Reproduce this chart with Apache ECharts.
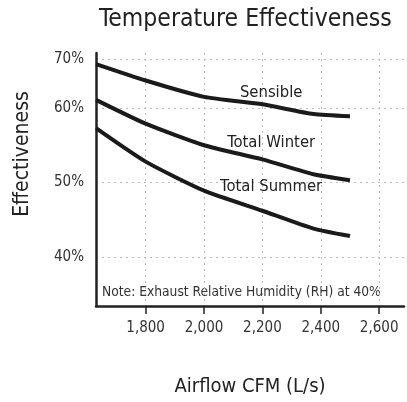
<!DOCTYPE html>
<html>
<head>
<meta charset="utf-8">
<title>Temperature Effectiveness</title>
<script src="https://cdn.jsdelivr.net/npm/echarts@6/dist/echarts.min.js"></script>
<style>
  html, body { margin: 0; padding: 0; background: #fff; }
  #chart { width: 407px; height: 402px; }
</style>
</head>
<body>
<div id="chart"></div>
<script>
// airflow (CFM) where the curves were read
var airflow = [1630, 1800, 2000, 2200, 2375, 2500];
// effectiveness in %
var sensible = [65.9, 63.7, 61.5, 60.5, 59.2, 58.9];
var totalWinter = [61.1, 57.9, 55.0, 53.1, 51.1, 50.3];
var totalSummer = [57.3, 52.8, 48.9, 46.2, 43.8, 42.8];

// tick marks
var xTicks = [1800, 2000, 2200, 2400, 2600];
var yTicks = [40, 50, 60, 66.6];
var yTickLabels = ['40%', '50%', '60%', '70%'];

// where the curve names sit (data coords)
var curveNames = ['Sensible', 'Total Winter', 'Total Summer'];
var nameSpots = [[2230, 62.0], [2230, 55.4], [2230, 49.4]];

var FONT = 'DejaVu Sans Condensed';
var chart = echarts.init(document.getElementById('chart'));

function curve(name, data, i) {
  return {
    name: name,
    type: 'line',
    smooth: 0.2,
    showSymbol: false,
    lineStyle: { color: '#1a1a1a', width: 4 },
    data: airflow.map(function (x, k) { return [x, data[k]]; }),
    markPoint: {
      symbol: 'circle',
      symbolSize: 1,
      itemStyle: { color: 'rgba(0,0,0,0)' },
      label: { show: true, position: 'inside', color: '#222', fontSize: 16.5, fontFamily: FONT, formatter: name },
      data: [{ coord: nameSpots[i] }]
    }
  };
}

chart.setOption({
  animation: false,
  title: {
    text: 'Temperature Effectiveness',
    left: 94,
    top: 2,
    textStyle: { fontFamily: FONT, fontSize: 24.5, fontWeight: 'normal', color: '#222' }
  },
  grid: { left: 96, right: 3, top: 53, bottom: 92 },
  xAxis: {
    type: 'value',
    min: 1630,
    max: 2685,
    name: 'Airflow CFM (L/s)',
    nameLocation: 'middle',
    nameGap: 71,
    nameTextStyle: { fontFamily: FONT, fontSize: 20, color: '#222' },
    axisLine: { lineStyle: { color: '#222', width: 2.5 } },
    axisTick: { show: true, customValues: xTicks, length: 8, lineStyle: { color: '#222', width: 1.5 } },
    axisLabel: {
      customValues: xTicks,
      margin: 15,
      fontFamily: FONT,
      fontSize: 15,
      color: '#333',
      formatter: function (v) { return v.toLocaleString('en-US'); }
    },
    splitLine: { show: true, lineStyle: { color: '#bbb', width: 1, type: [2, 4] } }
  },
  yAxis: {
    type: 'value',
    min: 33.4,
    max: 67.4,
    axisLine: { show: true, lineStyle: { color: '#222', width: 2.5 } },
    axisTick: { show: false, customValues: yTicks },
    axisLabel: {
      customValues: yTicks,
      margin: 12,
      fontFamily: FONT,
      fontSize: 15,
      color: '#333',
      formatter: function (v) { return yTickLabels[yTicks.indexOf(v)]; }
    },
    splitLine: { show: true, lineStyle: { color: '#bbb', width: 1, type: [2, 4] } }
  },
  graphic: [
    {
      type: 'text',
      x: 23,
      y: 154,
      rotation: Math.PI / 2,
      style: { text: 'Effectiveness', fontFamily: FONT, fontSize: 21, fill: '#222', align: 'center', verticalAlign: 'middle' }
    },
    {
      type: 'text',
      left: 102,
      top: 285,
      style: { text: 'Note: Exhaust Relative Humidity (RH) at 40%', fontFamily: FONT, fontSize: 13.7, fill: '#333' }
    }
  ],
  series: [
    curve(curveNames[0], sensible, 0),
    curve(curveNames[1], totalWinter, 1),
    curve(curveNames[2], totalSummer, 2)
  ]
});
</script>
</body>
</html>
